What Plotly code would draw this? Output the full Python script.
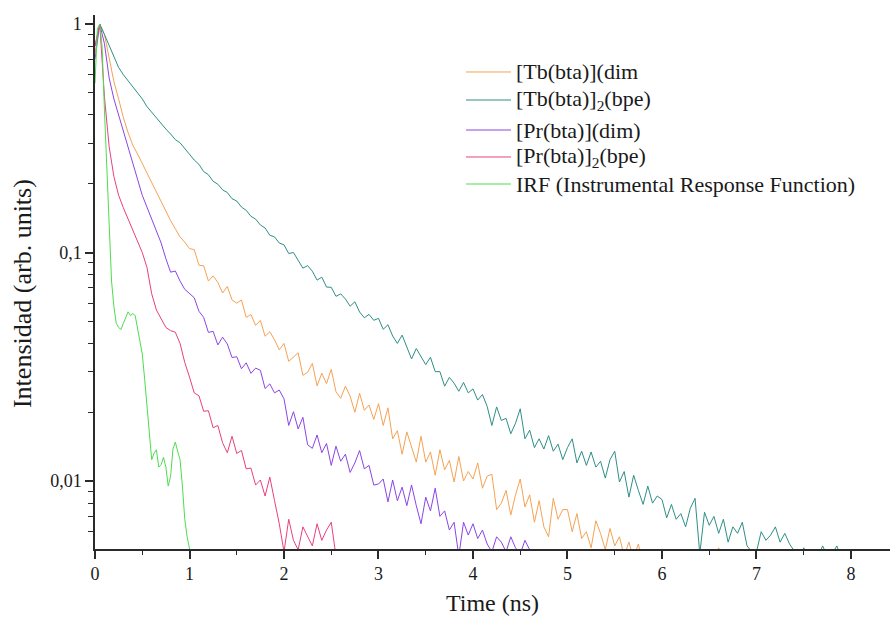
import plotly.graph_objects as go

# ---------------- data ----------------
TIME = [
    0.0, 0.05, 0.1, 0.15, 0.2, 0.25, 0.3, 0.35, 0.4, 0.45, 0.5, 0.55, 0.6, 0.65, 0.7, 0.75, 0.8, 0.85, 0.9, 0.95,
    1.0, 1.05, 1.1, 1.15, 1.2, 1.25, 1.3, 1.35, 1.4, 1.45, 1.5, 1.55, 1.6, 1.65, 1.7, 1.75, 1.8, 1.85, 1.9, 1.95,
    2.0, 2.05, 2.1, 2.15, 2.2, 2.25, 2.3, 2.35, 2.4, 2.45, 2.5, 2.55, 2.6, 2.65, 2.7, 2.75, 2.8, 2.85, 2.9, 2.95,
    3.0, 3.05, 3.1, 3.15, 3.2, 3.25, 3.3, 3.35, 3.4, 3.45, 3.5, 3.55, 3.6, 3.65, 3.7, 3.75, 3.8, 3.85, 3.9, 3.95,
    4.0, 4.05, 4.1, 4.15, 4.2, 4.25, 4.3, 4.35, 4.4, 4.45, 4.5, 4.55, 4.6, 4.65, 4.7, 4.75, 4.8, 4.85, 4.9, 4.95,
    5.0, 5.05, 5.1, 5.15, 5.2, 5.25, 5.3, 5.35, 5.4, 5.45, 5.5, 5.55, 5.6, 5.65, 5.7, 5.75, 5.8, 5.85, 5.9, 5.95,
    6.0, 6.05, 6.1, 6.15, 6.2, 6.25, 6.3, 6.35, 6.4, 6.45, 6.5, 6.55, 6.6, 6.65, 6.7, 6.75, 6.8, 6.85, 6.9, 6.95,
    7.0, 7.05, 7.1, 7.15, 7.2, 7.25, 7.3, 7.35, 7.4, 7.45, 7.5, 7.55, 7.6, 7.65, 7.7, 7.75, 7.8, 7.85, 7.9, 7.95,
]

TB_DIM = [
    0.75, 1.00, 0.90, 0.70, 0.56, 0.47, 0.39, 0.335, 0.295, 0.270, 0.245, 0.226, 0.205, 0.186, 0.168, 0.153, 0.138, 0.127, 0.117, 0.111,
    0.104, 0.103, 0.088, 0.0875, 0.075, 0.079, 0.074, 0.0665, 0.071, 0.062, 0.060, 0.062, 0.052, 0.0535, 0.048, 0.0505, 0.043, 0.045, 0.0415, 0.0375,
    0.040, 0.0334, 0.0347, 0.0364, 0.029, 0.0299, 0.0327, 0.0261, 0.0296, 0.0267, 0.0308, 0.0246, 0.0230, 0.0260, 0.0235, 0.0200, 0.0242, 0.0204, 0.0215, 0.0186,
    0.0218, 0.0175, 0.0209, 0.0153, 0.0166, 0.0131, 0.0164, 0.0141, 0.0121, 0.0157, 0.0121, 0.0134, 0.0106, 0.0137, 0.0112, 0.0123, 0.0099, 0.0128, 0.0100, 0.0110,
    0.0102, 0.0120, 0.0093, 0.0105, 0.0107, 0.0075, 0.0080, 0.0091, 0.0071, 0.0087, 0.0102, 0.0077, 0.0087, 0.0066, 0.0082, 0.0063, 0.0057, 0.0084, 0.0068, 0.0075,
    0.0075, 0.0060, 0.0072, 0.0056, 0.0060, 0.0051, 0.0067, 0.0059, 0.0050, 0.0062, 0.0052, 0.0057, 0.0047, 0.0054, 0.0046, 0.0053, 0.0043, 0.0050, 0.0045, 0.0048,
    0.0046, 0.0045, 0.0047, 0.0045, 0.0046, 0.0044, 0.0047, 0.0045, 0.0046, 0.0044, 0.0046, 0.0047, 0.0051, 0.0046,
]

TB_BPE = [
    0.80, 1.00, 0.90, 0.81, 0.72, 0.645, 0.60, 0.565, 0.53, 0.505, 0.47, 0.435, 0.41, 0.39, 0.365, 0.347, 0.33, 0.312, 0.302, 0.285,
    0.27, 0.254, 0.243, 0.226, 0.219, 0.205, 0.199, 0.188, 0.183, 0.172, 0.168, 0.158, 0.153, 0.144, 0.140, 0.132, 0.128, 0.119, 0.117, 0.110,
    0.108, 0.099, 0.100, 0.092, 0.0854, 0.0876, 0.0828, 0.0757, 0.078, 0.0706, 0.0704, 0.0643, 0.0659, 0.0626, 0.0582, 0.0609, 0.0549, 0.0518, 0.0536, 0.0505,
    0.0515, 0.0461, 0.0483, 0.0431, 0.040, 0.0435, 0.0383, 0.0342, 0.038, 0.035, 0.0323, 0.0348, 0.0301, 0.0301, 0.026, 0.0284, 0.0268, 0.0247, 0.027, 0.0243,
    0.0253, 0.0226, 0.0239, 0.0212, 0.0175, 0.0211, 0.0184, 0.0188, 0.0161, 0.0179, 0.0207, 0.0153, 0.0167, 0.0140, 0.0153, 0.0138, 0.0158, 0.0135, 0.0145, 0.0124,
    0.0140, 0.0153, 0.0120, 0.0135, 0.0117, 0.0134, 0.0115, 0.0122, 0.0103, 0.0124, 0.0135, 0.0099, 0.0110, 0.0085, 0.0106, 0.0091, 0.0079, 0.0095, 0.0080, 0.0086,
    0.0083, 0.0069, 0.0079, 0.0068, 0.0072, 0.0063, 0.0076, 0.0084, 0.0048, 0.0073, 0.0064, 0.0070, 0.0059, 0.0068, 0.0054, 0.0063, 0.0059, 0.0066, 0.0052, 0.0049,
    0.0049, 0.0060, 0.0055, 0.0058, 0.0063, 0.0054, 0.0059, 0.0053, 0.0049, 0.0046, 0.0051, 0.0047, 0.0049, 0.0046, 0.0052, 0.0047, 0.0048, 0.0052, 0.0046, 0.0045,
]

PR_DIM = [
    0.70, 1.00, 0.82, 0.58, 0.47, 0.40, 0.34, 0.29, 0.245, 0.205, 0.178, 0.158, 0.140, 0.124, 0.110, 0.094, 0.082, 0.083, 0.075, 0.069,
    0.066, 0.0634, 0.0553, 0.052, 0.0447, 0.0452, 0.0394, 0.0426, 0.0398, 0.0347, 0.035, 0.031, 0.0329, 0.0296, 0.0312, 0.0305, 0.0254, 0.0266, 0.0243, 0.0250,
    0.0229, 0.0175, 0.0201, 0.0169, 0.0190, 0.0144, 0.0139, 0.0159, 0.0133, 0.0146, 0.0117, 0.0142, 0.0122, 0.0131, 0.0109, 0.0120, 0.0136, 0.0113, 0.0117, 0.0096,
    0.0097, 0.0102, 0.0081, 0.0101, 0.0082, 0.0094, 0.0078, 0.0096, 0.0078, 0.0065, 0.0085, 0.0074, 0.0093, 0.0070, 0.0074, 0.0061, 0.0066, 0.0047, 0.0066, 0.0058,
    0.0065, 0.0056, 0.0061, 0.0053, 0.0049, 0.0057, 0.0054, 0.0049, 0.0057, 0.0051, 0.0048, 0.0055, 0.0050,
]

PR_BPE = [
    0.80, 1.00, 0.48, 0.29, 0.215, 0.178, 0.157, 0.140, 0.125, 0.112, 0.100, 0.086, 0.066, 0.056, 0.051, 0.047, 0.0455, 0.0448, 0.040, 0.033,
    0.0285, 0.0243, 0.0236, 0.0202, 0.0203, 0.0171, 0.0175, 0.0147, 0.0133, 0.0157, 0.0132, 0.0136, 0.0113, 0.0114, 0.0096, 0.0101, 0.0086, 0.0104, 0.0082, 0.0065,
    0.0049, 0.0068, 0.0055, 0.0050, 0.0063, 0.0057, 0.0052, 0.0065, 0.0055, 0.0061, 0.0066, 0.0047, 0.0045,
]

IRF_TIME = [
    0.0, 0.025, 0.05, 0.075, 0.1, 0.125, 0.15, 0.175, 0.2, 0.225, 0.25, 0.275, 0.3, 0.325, 0.35, 0.375, 0.4, 0.425, 0.45, 0.475,
    0.5, 0.525, 0.55, 0.575, 0.6, 0.625, 0.65, 0.675, 0.7, 0.725, 0.75, 0.775, 0.8, 0.825, 0.85, 0.875, 0.9, 0.925, 0.95, 0.975,
    1.0, 1.025,
]
IRF = [
    0.55, 0.95, 1.0, 0.80, 0.42, 0.23, 0.12, 0.075, 0.058, 0.049, 0.047, 0.046, 0.049, 0.052, 0.055, 0.053, 0.054, 0.053, 0.047, 0.042,
    0.036, 0.028, 0.021, 0.016, 0.0124, 0.0132, 0.0137, 0.0115, 0.0118, 0.0127, 0.0115, 0.0095, 0.0105, 0.0138, 0.0148, 0.0135, 0.0124, 0.0095, 0.0068, 0.0057,
    0.0051, 0.0045,
]

LABELS = [
    "[Tb(bta)](dim",
    "[Tb(bta)]<sub>2</sub>(bpe)",
    "[Pr(bta)](dim)",
    "[Pr(bta)]<sub>2</sub>(bpe)",
    "IRF (Instrumental Response Function)",
]
X_TITLE = "Time (ns)"
Y_TITLE = "Intensidad (arb. units)"
Y_TICKS = [0.01, 0.1, 1]
Y_TICK_TEXT = ["0,01", "0,1", "1"]
Y_MINOR = [0.006, 0.007, 0.008, 0.009, 0.02, 0.03, 0.04, 0.05, 0.06, 0.07, 0.08, 0.09,
           0.2, 0.3, 0.4, 0.5, 0.6, 0.7, 0.8, 0.9]

# ---------------- styling ----------------
COLORS = ["#F5A252", "#2E8F87", "#8B45E6", "#E8407E", "#4FDC4F"]
FONT = "Liberation Serif, Times New Roman, serif"
AXIS_COLOR = "#2a2a2a"
TEXT_COLOR = "#1a1a1a"

series = [
    (TIME[:len(TB_DIM)], TB_DIM),
    (TIME[:len(TB_BPE)], TB_BPE),
    (TIME[:len(PR_DIM)], PR_DIM),
    (TIME[:len(PR_BPE)], PR_BPE),
    (IRF_TIME, IRF),
]

fig = go.Figure()
for (xs, ys), lab, col in zip(series, LABELS, COLORS):
    fig.add_trace(go.Scatter(x=xs, y=ys, mode="lines", name=lab,
                             line=dict(color=col, width=1), showlegend=False))

# manual legend (line samples + text), positions in paper coordinates
row_y = [0.8933, 0.8408, 0.7846, 0.7341, 0.6835]
shapes = []
annotations = []
for lab, col, yy in zip(LABELS, COLORS, row_y):
    shapes.append(dict(type="line", xref="paper", yref="paper",
                       x0=0.4667, x1=0.5233, y0=yy, y1=yy,
                       line=dict(color=col, width=1)))
    annotations.append(dict(xref="paper", yref="paper", x=0.5265, y=yy,
                            xanchor="left", yanchor="middle", showarrow=False,
                            text=lab, font=dict(family=FONT, size=22, color=TEXT_COLOR)))

# y-axis title as a rotated annotation
annotations.append(dict(xref="paper", yref="paper", x=-0.0918, y=0.4775,
                        xanchor="center", yanchor="middle", showarrow=False,
                        textangle=-90, text=Y_TITLE,
                        font=dict(family=FONT, size=26, color=TEXT_COLOR)))

fig.update_layout(
    width=892, height=624,
    margin=dict(l=95, r=2, t=15, b=75),
    paper_bgcolor="white", plot_bgcolor="white",
    font=dict(family=FONT, color=TEXT_COLOR),
    shapes=shapes, annotations=annotations,
    xaxis=dict(
        range=[0, 8.413], tick0=0, dtick=1,
        showline=True, linecolor=AXIS_COLOR, linewidth=1.5,
        ticks="outside", ticklen=8, tickwidth=1.5, tickcolor=AXIS_COLOR,
        showgrid=False, zeroline=False,
        tickfont=dict(family=FONT, size=18),
        minor=dict(dtick=0.5, ticks="outside", ticklen=4, tickwidth=1, tickcolor=AXIS_COLOR, showgrid=False),
        title=dict(text=X_TITLE, font=dict(family=FONT, size=24), standoff=11),
    ),
    yaxis=dict(
        type="log", range=[-2.2976, 0.0394],
        tickmode="array", tickvals=Y_TICKS, ticktext=Y_TICK_TEXT,
        showline=True, linecolor=AXIS_COLOR, linewidth=1.5,
        ticks="outside", ticklen=8, tickwidth=1.5, tickcolor=AXIS_COLOR,
        showgrid=False, zeroline=False,
        tickfont=dict(family=FONT, size=18),
        minor=dict(tickmode="array", tickvals=Y_MINOR, ticks="outside", ticklen=5,
                   tickwidth=1, tickcolor=AXIS_COLOR, showgrid=False),
    ),
)

fig.write_html("out.html")
